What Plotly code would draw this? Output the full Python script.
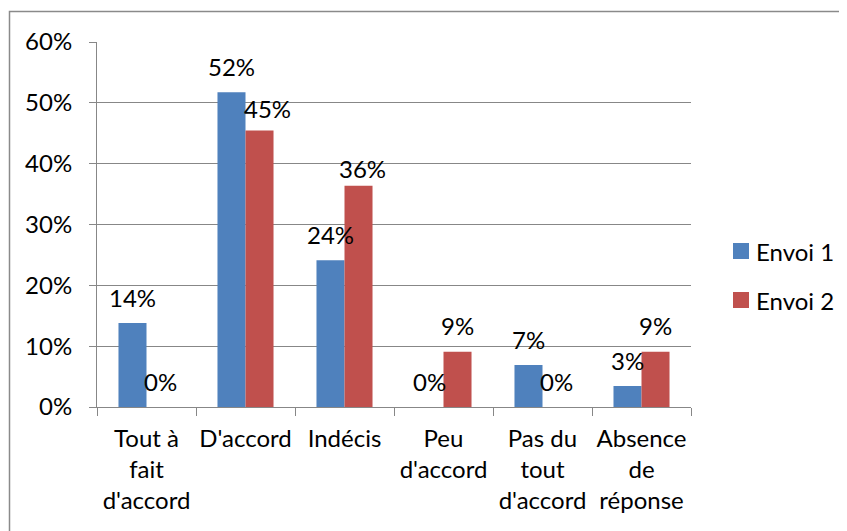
import plotly.graph_objects as go

categories = ["Tout à<br>fait<br>d'accord", "D'accord", "Indécis", "Peu<br>d'accord",
              "Pas du<br>tout<br>d'accord", "Absence<br>de<br>réponse"]
series_names = ["Envoi 1", "Envoi 2"]
envoi1 = [0.1379, 0.5172, 0.2414, 0.0, 0.0690, 0.0345]
envoi2 = [0.0, 0.4545, 0.3636, 0.0909, 0.0, 0.0909]
y_ticks = [0, 0.1, 0.2, 0.3, 0.4, 0.5, 0.6]
y_ticklabels = ["0%", "10%", "20%", "30%", "40%", "50%", "60%"]

colors = ["#4F81BD", "#C0504D"]
FONT = "Lato"
FS = 24
GRID = "#878787"

# the page body has an 8px default margin; size the figure to fill the rest of the window
OFF = 8
W, H = 847 - OFF, 531 - OFF
L, T = 97 - OFF, 42 - OFF
PW, PH = 594, 365
R = W - L - PW
B = H - T - PH

def px_x(px):
    return (px - OFF - L) / PW

def px_y(py):
    return 1 - (py - OFF - T) / PH

fig = go.Figure()
all_vals = [envoi1, envoi2]
for name, vals, col in zip(series_names, all_vals, colors):
    fig.add_trace(go.Bar(x=categories, y=vals, name=name, marker=dict(color=col, line=dict(width=0)),
                         showlegend=False))

# data labels (Excel "outside end" style), with a couple of manually nudged labels
label_nudge = {(1, 1): (8, -4), (1, 2): (4, -9)}
bar_px = PW / len(categories) * (1 - 0.434) / 2
annotations = []
for si, vals in enumerate(all_vals):
    for ci, v in enumerate(vals):
        dx, dy = label_nudge.get((si, ci), (0, 0))
        annotations.append(dict(
            x=categories[ci], y=v, xref="x", yref="y",
            text=f"{round(v * 100):d}%", showarrow=False,
            xshift=(si - 0.5) * bar_px + dx, yshift=26 + dy,
            xanchor="center", yanchor="middle",
            font=dict(family=FONT, size=FS, color="black")))

# custom legend
shapes = []
leg_y = [251, 300]
for name, col, ly in zip(series_names, colors, leg_y):
    shapes.append(dict(type="rect", xref="paper", yref="paper",
                       x0=px_x(733), x1=px_x(749), y0=px_y(ly - 8), y1=px_y(ly + 8),
                       fillcolor=col, line=dict(width=0)))
    annotations.append(dict(x=px_x(754), y=px_y(ly), xref="paper", yref="paper",
                            text=name, showarrow=False, xanchor="left", yanchor="middle",
                            font=dict(family=FONT, size=FS, color="black")))

# chart border
shapes.append(dict(type="rect", xref="paper", yref="paper",
                   x0=px_x(9.5), x1=px_x(880), y0=px_y(11.5), y1=px_y(580),
                   line=dict(color="#8a8a8a", width=1.5), fillcolor="rgba(0,0,0,0)", layer="below"))

fig.update_layout(
    width=W, height=H,
    margin=dict(l=L, r=R, t=T, b=B, pad=0, autoexpand=False),
    paper_bgcolor="white", plot_bgcolor="white",
    barmode="group", bargap=0.434, bargroupgap=0,
    font=dict(family=FONT, size=FS, color="black"),
    annotations=annotations, shapes=shapes,
    showlegend=False,
)
fig.update_xaxes(
    automargin=False, tickangle=0,
    showgrid=False, showline=True, linecolor=GRID, linewidth=1,
    ticks="outside", tickson="boundaries", ticklen=8, tickcolor=GRID, tickwidth=1,
    ticklabelstandoff=10,
    tickfont=dict(family=FONT, size=FS, color="black"),
)
fig.update_yaxes(
    automargin=False,
    range=[0, 0.6], tickvals=y_ticks, ticktext=y_ticklabels,
    showgrid=True, gridcolor=GRID, gridwidth=1,
    showline=True, linecolor=GRID, linewidth=1,
    ticks="outside", ticklen=7, tickcolor=GRID, tickwidth=1,
    ticklabelstandoff=12, zeroline=False,
    tickfont=dict(family=FONT, size=FS, color="black"),
)

fig.write_html("out.html")
